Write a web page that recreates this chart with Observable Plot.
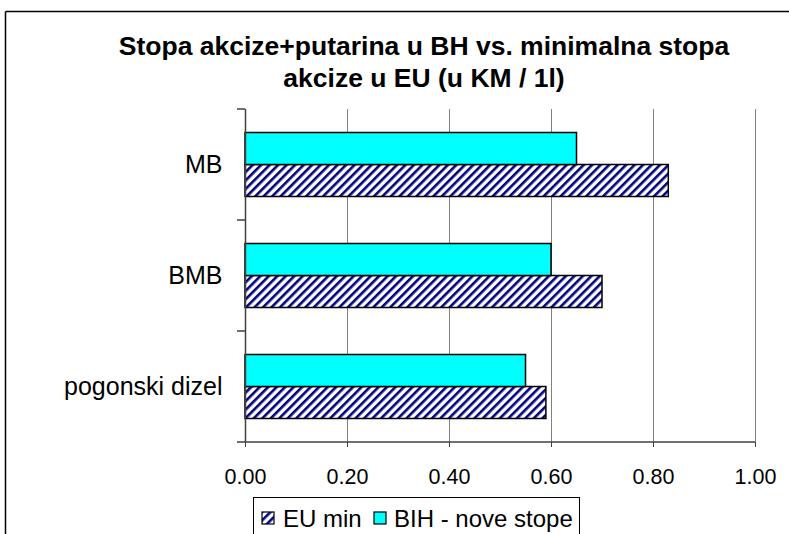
<!DOCTYPE html>
<html>
<head>
<meta charset="utf-8">
<script src="https://cdn.jsdelivr.net/npm/d3@7"></script>
<script src="https://cdn.jsdelivr.net/npm/@observablehq/plot@0.6"></script>
<style>
  html, body { margin: 0; padding: 0; background: white; }
  #chart svg { display: block; }
</style>
</head>
<body>
<div id="chart"></div>
<script>
const categories = ["MB", "BMB", "pogonski dizel"];
const euMin = [0.83, 0.70, 0.59];
const bihNove = [0.65, 0.60, 0.55];
const xTicks = [0, 0.2, 0.4, 0.6, 0.8, 1.0];
const seriesNames = ["EU min", "BIH - nove stope"];
const titleLines = ["Stopa akcize+putarina u BH vs. minimalna stopa", "akcize u EU (u KM / 1l)"];

const data = categories.map((c, i) => ({cat: c, eu: euMin[i], bih: bihNove[i]}));
const FONT = "'Liberation Sans', Arial, sans-serif";

const plot = Plot.plot({
  width: 789,
  height: 534,
  marginLeft: 245,
  marginRight: 34,
  marginTop: 109,
  marginBottom: 92,
  style: {fontFamily: FONT, fontSize: "21px", color: "black", background: "white", overflow: "visible"},
  x: {domain: [0, 1], label: null},
  y: {domain: categories, padding: 0, label: null},
  marks: [
    Plot.gridX(xTicks, {stroke: "#808080", strokeOpacity: 1, strokeWidth: 1}),
    Plot.barX(data, {x: "eu", y: "cat", fill: "url(#hatch)", stroke: "black", strokeWidth: 1.5, insetTop: 55.5, insetBottom: 23.5}),
    Plot.barX(data, {x: "bih", y: "cat", fill: "#00ffff", stroke: "black", strokeWidth: 1.5, insetTop: 23.5, insetBottom: 55.5}),
    Plot.ruleX([0], {stroke: "#404040", strokeWidth: 1.5}),
    Plot.axisX(xTicks, {tickSize: 5, tickPadding: 21, tickFormat: d3.format(".2f"), stroke: "#404040", fontSize: 21.5, label: null}),
    Plot.axisY({tickSize: 0, tickPadding: 23, fontSize: 25, label: null})
  ]
});

const svg = d3.select(plot);
const xs = plot.scale("x");
const ys = plot.scale("y");

// hatch pattern
const defs = svg.insert("defs", ":first-child");
const pat = defs.append("pattern")
  .attr("id", "hatch")
  .attr("patternUnits", "userSpaceOnUse")
  .attr("width", 6).attr("height", 6)
  .attr("patternTransform", "rotate(45)");
pat.append("rect").attr("width", 6).attr("height", 6).attr("fill", "white");
pat.append("rect").attr("x", 0).attr("y", 0).attr("width", 2.6).attr("height", 6).attr("fill", "#000080");

// bottom axis line and y boundary ticks
const x0 = xs.apply(0), x1 = xs.apply(1);
const bw = ys.bandwidth;
const bounds = categories.map(c => ys.apply(c)).concat([ys.apply(categories[categories.length - 1]) + bw]);
const g = svg.append("g").attr("stroke", "#404040").attr("stroke-width", 1.5);
g.append("line").attr("x1", x0).attr("x2", x1).attr("y1", bounds[bounds.length - 1]).attr("y2", bounds[bounds.length - 1]);
bounds.forEach(b => g.append("line").attr("x1", x0 - 8).attr("x2", x0).attr("y1", b).attr("y2", b));

// frame (outer chart border, continues past the right and bottom edges)
const fr = svg.append("g").attr("stroke", "black").attr("stroke-width", 1.5);
fr.append("line").attr("x1", 5.5).attr("x2", 789).attr("y1", 11.5).attr("y2", 11.5);
fr.append("line").attr("x1", 5.5).attr("x2", 5.5).attr("y1", 11.5).attr("y2", 534);

// title
const tg = svg.append("g").attr("font-family", FONT).attr("font-weight", "bold").attr("font-size", 26.5).attr("text-anchor", "middle");
titleLines.forEach((t, i) => tg.append("text").attr("x", 424).attr("y", 55 + i * 32).text(t));

// legend
const lg = svg.append("g").attr("font-family", FONT).attr("font-size", 24).attr("text-anchor", "start");
lg.append("rect").attr("x", 253.5).attr("y", 497.5).attr("width", 326).attr("height", 60).attr("fill", "white").attr("stroke", "black").attr("stroke-width", 1);
const swX = [262, 374], txX = [283, 394];
const fills = ["url(#hatch)", "#00ffff"];
seriesNames.forEach((s, i) => {
  lg.append("rect").attr("x", swX[i]).attr("y", 512).attr("width", 12).attr("height", 12).attr("fill", fills[i]).attr("stroke", "black").attr("stroke-width", 1.2);
  lg.append("text").attr("x", txX[i]).attr("y", 527).text(s);
});

document.getElementById("chart").appendChild(plot);
</script>
</body>
</html>
